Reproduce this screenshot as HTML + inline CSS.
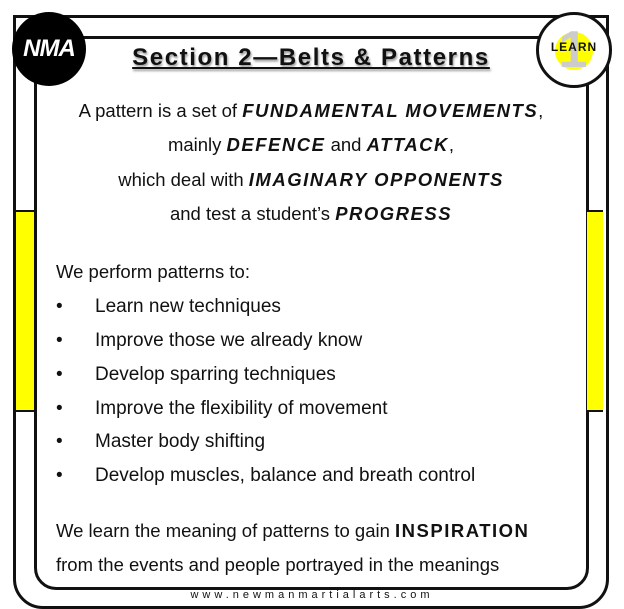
<!DOCTYPE html>
<html><head><style>
body{margin:0;width:624px;height:608px;background:#fff;position:relative;overflow:hidden;font-family:"Liberation Sans",sans-serif;color:#111}
.a{position:absolute}
.t{position:absolute;left:35px;width:552px;text-align:center;font-size:18.5px;white-space:nowrap}
.l{position:absolute;left:56px;font-size:18.5px;white-space:nowrap}
b i,i b{letter-spacing:1.5px}
.bl{position:absolute;left:56px;font-size:19px;white-space:nowrap}
.bl span{position:absolute;left:39px}
</style></head><body>
<div class="a" style="left:13px;top:15px;width:590px;height:588px;border:3px solid #111;border-radius:0 0 30px 30px"></div>
<div class="a" style="left:34px;top:36px;width:549px;height:548px;border:3px solid #111;border-radius:0 0 22px 22px"></div>
<div class="a" style="left:16px;top:210px;width:18px;height:198px;background:#ffff00;border-top:2px solid #111;border-bottom:2px solid #111"></div>
<div class="a" style="left:587px;top:210px;width:16px;height:198px;background:#ffff00;border-top:2px solid #111;border-bottom:2px solid #111"></div>
<div class="a" style="left:12px;top:12px;width:74px;height:74px;border-radius:50%;background:#000;color:#fff;font-weight:bold;font-size:24px;line-height:74px;text-align:center;letter-spacing:-1px;font-style:italic">NMA</div>
<div class="a" style="left:536px;top:12px;width:70px;height:70px;border-radius:50%;background:#fff;border:3px solid #111"></div>
<div class="a" style="left:555px;top:32px;width:38px;height:38px;border-radius:50%;background:#ffff00"></div>
<div class="a" style="left:548px;top:20px;width:50px;text-align:center;font-size:52px;font-weight:bold;color:#ccc;line-height:60px">1</div>
<div class="a" style="left:536px;top:40px;width:76px;text-align:center;font-size:12px;font-weight:bold;letter-spacing:1px">LEARN</div>
<div class="a" style="left:35px;width:552px;top:44px;text-align:center;font-size:24px;font-weight:bold;text-decoration:underline;letter-spacing:1.6px;text-shadow:1px 2px 2px #999">Section 2—Belts &amp; Patterns</div>
<div class="t" style="top:100px">A pattern is a set of <b><i>FUNDAMENTAL MOVEMENTS</i></b>,</div>
<div class="t" style="top:134px">mainly <b><i>DEFENCE</i></b> and <b><i>ATTACK</i></b>,</div>
<div class="t" style="top:169px">which deal with <b><i>IMAGINARY OPPONENTS</i></b></div>
<div class="t" style="top:203px">and test a student’s <b><i>PROGRESS</i></b></div>
<div class="l" style="top:261px">We perform patterns to:</div>
<div class="bl" style="top:296px">•<span>Learn new techniques</span></div>
<div class="bl" style="top:330px">•<span>Improve those we already know</span></div>
<div class="bl" style="top:364px">•<span>Develop sparring techniques</span></div>
<div class="bl" style="top:398px">•<span>Improve the flexibility of movement</span></div>
<div class="bl" style="top:431px">•<span>Master body shifting</span></div>
<div class="bl" style="top:465px">•<span>Develop muscles, balance and breath control</span></div>
<div class="l" style="top:520px">We learn the meaning of patterns to gain <b style="letter-spacing:1.5px">INSPIRATION</b></div>
<div class="l" style="top:554px">from the events and people portrayed in the meanings</div>
<div class="a" style="left:0;width:624px;top:589px;text-align:center;font-size:11px;letter-spacing:4px">www.newmanmartialarts.com</div>
</body></html>
